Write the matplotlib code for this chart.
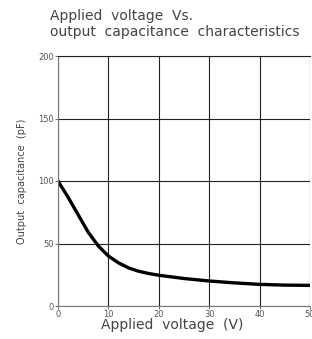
import matplotlib
matplotlib.use("Agg")
import matplotlib.pyplot as plt

# curve
voltage = [0, 2, 4, 6, 8, 10, 12, 14, 16, 18, 20, 25, 30, 35, 40, 45, 50]
capacitance = [100, 87, 73, 59, 48, 40, 34.5, 30.5, 27.8, 26, 24.6, 22, 20, 18.5, 17.3, 16.7, 16.5]

x_ticks = [0, 10, 20, 30, 40, 50]
y_ticks = [0, 50, 100, 150, 200]

fig = plt.figure(figsize=(3.12, 3.39), dpi=100)
ax = fig.add_axes([58 / 312, 33 / 339, 252 / 312, 250 / 339])

ax.plot(voltage, capacitance, color="black", lw=2.4, solid_capstyle="round")

ax.set_xlim(0, 50)
ax.set_ylim(0, 200)
ax.set_xticks(x_ticks)
ax.set_yticks(y_ticks)
ax.tick_params(labelsize=6, colors="#555555", length=2, width=0.6, pad=1)
ax.grid(True, color="#222222", lw=0.8)

for side in ["left", "bottom"]:
    ax.spines[side].set_color("#777777")
    ax.spines[side].set_linewidth(0.8)
ax.spines["top"].set_color("#222222")
ax.spines["top"].set_linewidth(0.8)
ax.spines["right"].set_visible(False)

fig.text(172 / 312, 1 - 325 / 339, "Applied  voltage  (V)", fontsize=10, color="#444444",
         ha="center", va="center")
ax.set_ylabel("Output  capacitance  (pF)", fontsize=7, color="#444444", labelpad=8)

fig.text(50 / 312, 1 - 16 / 339, "Applied  voltage  Vs.", fontsize=10, color="#444444", va="center")
fig.text(50 / 312, 1 - 32 / 339, "output  capacitance  characteristics", fontsize=10, color="#444444", va="center")

fig.savefig("out.png", dpi=100)
